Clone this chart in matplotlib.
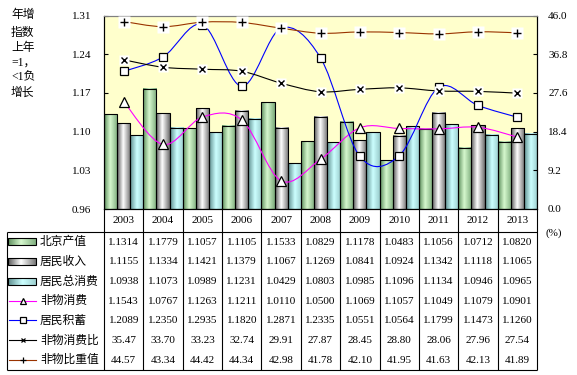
import numpy as np
import matplotlib
matplotlib.use("Agg")
import matplotlib.pyplot as plt
from matplotlib.path import Path
from matplotlib.patches import PathPatch, Rectangle
from matplotlib.colors import LinearSegmentedColormap

plt.rcParams['font.family'] = ['Liberation Serif', 'Noto Sans CJK SC', 'DejaVu Sans']

years = ['2003', '2004', '2005', '2006', '2007', '2008', '2009', '2010', '2011', '2012', '2013']
gdp = [1.1314, 1.1779, 1.1057, 1.1105, 1.1533, 1.0829, 1.1178, 1.0483, 1.1056, 1.0712, 1.0820]
income = [1.1155, 1.1334, 1.1421, 1.1379, 1.1067, 1.1269, 1.0841, 1.0924, 1.1342, 1.1118, 1.1065]
consume = [1.0938, 1.1073, 1.0989, 1.1231, 1.0429, 1.0803, 1.0985, 1.1096, 1.1134, 1.0946, 1.0965]
nonmat = [1.1543, 1.0767, 1.1263, 1.1211, 1.0110, 1.0500, 1.1069, 1.1057, 1.1049, 1.1079, 1.0901]
savings = [1.2089, 1.2350, 1.2935, 1.1820, 1.2871, 1.2335, 1.0551, 1.0564, 1.1799, 1.1473, 1.1260]
nonmat_ratio = [35.47, 33.70, 33.23, 32.74, 29.91, 27.87, 28.45, 28.80, 28.06, 27.96, 27.54]
nonmat_weight = [44.57, 43.34, 44.42, 44.34, 42.98, 41.78, 42.10, 41.95, 41.63, 42.13, 41.89]

bar_names = ['北京产值', '居民收入', '居民总消费']
line_names = ['非物消费', '居民积蓄', '非物消费比', '非物比重值']
left_ticks = [0.96, 1.03, 1.10, 1.17, 1.24, 1.31]
right_ticks = [0.0, 9.2, 18.4, 27.6, 36.8, 46.0]
ylabel_lines = ['年增', '指数', '上年', '=1，', '<1负', '增长']

W, H = 577, 375
fig = plt.figure(figsize=(W / 100, H / 100), dpi=100)
fig.patch.set_facecolor('white')

L, R, T, B = 104, 537, 15.5, 209
ax = fig.add_axes([L / W, 1 - B / H, (R - L) / W, (B - T) / H])
ax.set_facecolor('#FFFFCC')
ax.set_xlim(-0.5, len(years) - 0.5)
ax.set_ylim(left_ticks[0], left_ticks[-1])
ax.set_yticks(left_ticks)
ax.set_yticklabels([f'{t:.2f}' for t in left_ticks])
ax.set_xticks([])
ax.tick_params(axis='y', direction='in', length=3, pad=9, labelsize=8, colors='black')
for s in ['left', 'bottom', 'right']:
    ax.spines[s].set_color('black')
    ax.spines[s].set_linewidth(0.8)
ax.spines['top'].set_color('#808080')
ax.spines['top'].set_linewidth(0.8)

ax2 = ax.twinx()
ax2.set_ylim(right_ticks[0], right_ticks[-1])
ax2.set_yticks(right_ticks)
ax2.set_yticklabels([f'{t:.1f}' for t in right_ticks])
ax2.tick_params(axis='y', direction='in', length=3, pad=8, labelsize=8, colors='black')
for s in ['left', 'bottom', 'right']:
    ax2.spines[s].set_color('black')
    ax2.spines[s].set_linewidth(0.8)
ax2.spines['top'].set_color('#808080')
ax2.spines['top'].set_linewidth(0.8)

cmaps = [
    LinearSegmentedColormap.from_list('g', [(0, '#5E8F5E'), (0.45, '#D6F8CE'), (1, '#7BAA7B')]),
    LinearSegmentedColormap.from_list('k', [(0, '#5A5A5A'), (0.45, '#FFFFFF'), (1, '#6E6E6E')]),
    LinearSegmentedColormap.from_list('c', [(0, '#5F8F8F'), (0.5, '#CCFFFF'), (1, '#9ACCCC')]),
]
grad = np.linspace(0, 1, 64).reshape(1, -1)

x = np.arange(len(years))
bw = 1 / 3
base = left_ticks[0]
for k, vals in enumerate([gdp, income, consume]):
    bars = ax.bar(x + (k - 1) * bw, np.array(vals) - base, bw, bottom=base,
                  facecolor='none', edgecolor='black', linewidth=0.8, zorder=3)
    for p in bars:
        x0, y0, w, h = p.get_x(), p.get_y(), p.get_width(), p.get_height()
        ax.imshow(grad, extent=[x0, x0 + w, y0, y0 + h], aspect='auto',
                  cmap=cmaps[k], zorder=2, interpolation='bilinear')
ax.set_xlim(-0.5, len(years) - 0.5)
ax.set_ylim(left_ticks[0], left_ticks[-1])


def smooth_path(xs, ys):
    P = np.column_stack([xs, ys]).astype(float)
    n = len(P)
    verts = [P[0]]
    codes = [Path.MOVETO]
    for i in range(n - 1):
        p0 = P[i - 1] if i > 0 else P[i]
        p1 = P[i]
        p2 = P[i + 1]
        p3 = P[i + 2] if i + 2 < n else P[i + 1]
        c1 = p1 + (p2 - p0) / 6
        c2 = p2 - (p3 - p1) / 6
        verts += [c1, c2, p2]
        codes += [Path.CURVE4] * 3
    return Path(verts, codes)


line_specs = [
    (ax, nonmat, '#FF00FF', '^', 6.5, None),
    (ax, savings, '#0000FF', 's', 5.5, None),
    (ax2, nonmat_ratio, 'black', 'x', 4.5, 's'),
    (ax2, nonmat_weight, '#993300', '+', 5.5, 's'),
]
for a, vals, col, mk, ms, bg in line_specs:
    a.add_patch(PathPatch(smooth_path(x, vals), facecolor='none', edgecolor=col,
                          lw=0.8, zorder=5))
    if bg:
        a.plot(x, vals, ls='none', marker=bg, ms=ms + 2.5, mfc='white', mec='none', zorder=6)
        a.plot(x, vals, ls='none', marker=mk, ms=ms, mec='black', mew=1, zorder=7)
    else:
        a.plot(x, vals, ls='none', marker=mk, ms=ms, mfc='white', mec='black', mew=0.9, zorder=7)

ov = fig.add_axes([0, 0, 1, 1], facecolor='none')
ov.set_xlim(0, W)
ov.set_ylim(H, 0)
ov.axis('off')

cjk = ['Noto Sans CJK SC', 'DejaVu Sans']
ylab_y = [15, 32.5, 48, 62.5, 77.5, 93]
for s, yy in zip(ylabel_lines, ylab_y):
    ov.text(11, yy, s, fontsize=8.5, family=['Liberation Serif', 'Noto Sans CJK SC'],
            va='center', ha='left')

ov.text(545, 233, '(%)', fontsize=8, va='center', ha='left')

col_w = (R - L) / len(years)
row_top = 232
row_bot = 369.5
nrows = 7
rh = (row_bot - row_top) / nrows
lk = dict(color='black', lw=0.8, solid_capstyle='butt')
ov.plot([7, R], [row_top, row_top], **lk)
ov.plot([7, R], [row_bot, row_bot], **lk)
ov.plot([7, 7], [row_top, row_bot], **lk)
for j in range(len(years) + 1):
    xx = L + j * col_w
    ov.plot([xx, xx], [B, row_bot], **lk)

for j, yr in enumerate(years):
    ov.text(L + (j + 0.5) * col_w, 220.5, yr, fontsize=8, ha='center', va='center')

rows = [gdp, income, consume, nonmat, savings, nonmat_ratio, nonmat_weight]
names = bar_names + line_names
for r, (vals, nm) in enumerate(zip(rows, names)):
    yc = row_top + (r + 0.5) * rh
    fmt = '{:.4f}' if r < 5 else '{:.2f}'
    for j, v in enumerate(vals):
        ov.text(L + (j + 0.5) * col_w, yc + 0.5, fmt.format(v), fontsize=8,
                ha='center', va='center')
    ov.text(40, yc, nm, fontsize=8.5, family=cjk, ha='left', va='center')
    if r < 3:
        ov.imshow(grad, extent=[7.5, 36, yc + 3.5, yc - 3.5], aspect='auto',
                  cmap=cmaps[r], zorder=2, interpolation='bilinear')
        ov.add_patch(Rectangle((7.5, yc - 3.5), 28.5, 7, facecolor='none',
                               edgecolor='black', lw=0.8, zorder=3))
    else:
        _, _, col, mk, ms, bg = line_specs[r - 3]
        ov.plot([9, 36], [yc, yc], color=col, lw=0.8, zorder=3)
        if bg:
            ov.plot([22.5], [yc], marker=mk, ms=ms - 1.5, mec='black', mew=0.9, ls='none', zorder=4)
        else:
            ov.plot([22.5], [yc], marker=mk, ms=ms - 1.5, mfc='white', mec='black', mew=0.9,
                    ls='none', zorder=4)
ov.set_xlim(0, W)
ov.set_ylim(H, 0)

fig.savefig('out.png', dpi=100)
